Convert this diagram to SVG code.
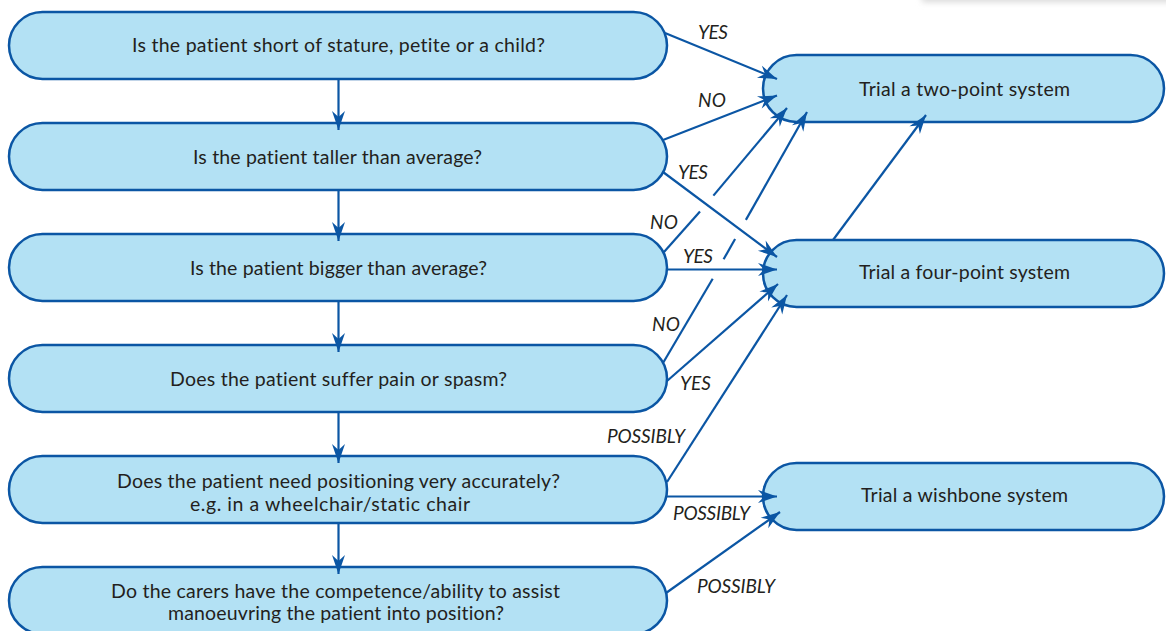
<svg xmlns="http://www.w3.org/2000/svg" width="1166" height="631" viewBox="0 0 1166 631">
  <defs>
    <style>
      .node { fill: #b3e1f4; stroke: #0b56a4; stroke-width: 2.5; }
      .txt { font-family: Lato, "Open Sans", "Liberation Sans", sans-serif; font-size: 19.5px; fill: #231f20; font-variant-ligatures: none; font-feature-settings: "liga" 0, "dlig" 0; }
      .lbl { font-family: Lato, "Open Sans", "Liberation Sans", sans-serif; font-size: 19px; font-style: italic; fill: #231f20; }
      .conn { fill: none; stroke: #0b56a4; stroke-width: 2.2; }
      .arr { marker-end: url(#head); }
    </style>
    <marker id="head" markerUnits="userSpaceOnUse" viewBox="-20 -8 22 16" refX="0" refY="0" markerWidth="22" markerHeight="16" orient="auto">
      <path d="M0,0 L-19,-6.5 L-13,0 L-19,6.5 Z" fill="#0b56a4"/>
    </marker>
    <filter id="soft" x="-20%" y="-200%" width="140%" height="500%">
      <feGaussianBlur stdDeviation="3"/>
    </filter>
  </defs>

  <rect width="1166" height="631" fill="#ffffff"/>
  <!-- faint edge shadow at the top right -->
  <rect x="922" y="-20" width="260" height="22" fill="#d8d8d8" filter="url(#soft)"/>

  <!-- question nodes -->
  <g id="q1">
    <rect class="node" x="9" y="12" width="658" height="67" rx="33.5"/>
    <text class="txt" x="132" y="52" textLength="413">Is the patient short of stature, petite or a child?</text>
  </g>
  <g id="q2">
    <rect class="node" x="9" y="123" width="658" height="67" rx="33.5"/>
    <text class="txt" x="193" y="163.5" textLength="289">Is the patient taller than average?</text>
  </g>
  <g id="q3">
    <rect class="node" x="9" y="234" width="658" height="67" rx="33.5"/>
    <text class="txt" x="190" y="274.5" textLength="297">Is the patient bigger than average?</text>
  </g>
  <g id="q4">
    <rect class="node" x="9" y="345" width="658" height="67" rx="33.5"/>
    <text class="txt" x="170" y="385.5" textLength="337">Does the patient suffer pain or spasm?</text>
  </g>
  <g id="q5">
    <rect class="node" x="9" y="456" width="658" height="67" rx="33.5"/>
    <text class="txt" x="117" y="487.5" textLength="443">Does the patient need positioning very accurately?</text>
    <text class="txt" x="190" y="510.5" textLength="280">e.g. in a wheelchair/static chair</text>
  </g>
  <g id="q6">
    <rect class="node" x="9" y="567" width="658" height="67" rx="33.5"/>
    <text class="txt" x="111" y="597.5" textLength="449">Do the carers have the competence/ability to assist</text>
    <text class="txt" x="168" y="619.5" textLength="336">manoeuvring the patient into position?</text>
  </g>

  <!-- outcome nodes -->
  <g id="two-point">
    <rect class="node" x="763" y="55" width="401" height="67" rx="33.5"/>
    <text class="txt" x="859" y="95.5" textLength="211">Trial a two-point system</text>
  </g>
  <g id="four-point">
    <rect class="node" x="763" y="240" width="401" height="67" rx="33.5"/>
    <text class="txt" x="859" y="278.5" textLength="211">Trial a four-point system</text>
  </g>
  <g id="wishbone">
    <rect class="node" x="763" y="463" width="401" height="67" rx="33.5"/>
    <text class="txt" x="861" y="501.5" textLength="207">Trial a wishbone system</text>
  </g>

  <!-- connectors -->
  <g id="connectors">
    <!-- question chain -->
    <line class="conn arr" x1="338.5" y1="79" x2="338.5" y2="130"/>
    <line class="conn arr" x1="338.5" y1="190" x2="338.5" y2="241"/>
    <line class="conn arr" x1="338.5" y1="301" x2="338.5" y2="352"/>
    <line class="conn arr" x1="338.5" y1="412" x2="338.5" y2="463"/>
    <line class="conn arr" x1="338.5" y1="523" x2="338.5" y2="574"/>

    <!-- to two-point -->
    <line class="conn arr" x1="665" y1="33" x2="777" y2="79"/>
    <line class="conn arr" x1="663" y1="140" x2="777" y2="95.5"/>
    <line class="conn" x1="664" y1="252" x2="700" y2="211.5"/>
    <line class="conn arr" x1="713.4" y1="195.6" x2="787" y2="108"/>
    <line class="conn" x1="663" y1="363" x2="712.7" y2="278.7"/>
    <line class="conn" x1="723.6" y1="259.3" x2="735.1" y2="239"/>
    <line class="conn arr" x1="745.9" y1="219.9" x2="807" y2="112"/>
    <line class="conn arr" x1="833" y1="240" x2="926" y2="115"/>

    <!-- to four-point -->
    <line class="conn arr" x1="663" y1="172" x2="777" y2="257"/>
    <line class="conn arr" x1="667" y1="269.5" x2="777" y2="269.5"/>
    <line class="conn arr" x1="667" y1="381" x2="778" y2="284"/>
    <line class="conn arr" x1="667" y1="482" x2="787" y2="295"/>

    <!-- to wishbone -->
    <line class="conn arr" x1="667" y1="496.5" x2="777" y2="496.5"/>
    <line class="conn arr" x1="666" y1="593" x2="780" y2="512"/>

    <!-- answer labels -->
    <text class="lbl" x="698" y="39" textLength="30">YES</text>
    <text class="lbl" x="698" y="107" textLength="28">NO</text>
    <text class="lbl" x="678" y="179" textLength="30">YES</text>
    <text class="lbl" x="650" y="229" textLength="28">NO</text>
    <text class="lbl" x="683" y="263" textLength="30">YES</text>
    <text class="lbl" x="652" y="331" textLength="28">NO</text>
    <text class="lbl" x="680" y="390" textLength="31">YES</text>
    <text class="lbl" x="607" y="443" textLength="78">POSSIBLY</text>
    <text class="lbl" x="673" y="520" textLength="77">POSSIBLY</text>
    <text class="lbl" x="697" y="593" textLength="78">POSSIBLY</text>
  </g>
</svg>
